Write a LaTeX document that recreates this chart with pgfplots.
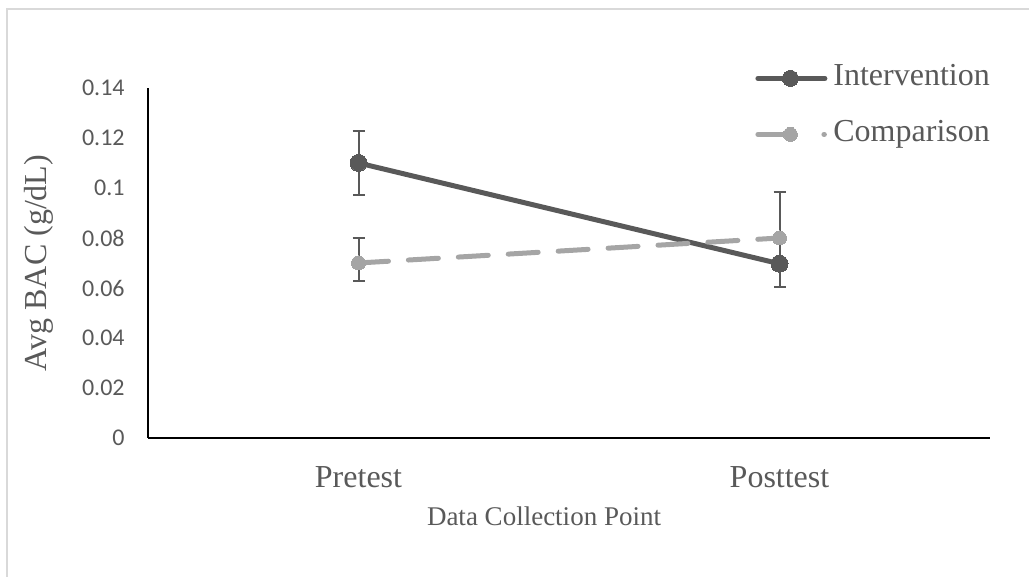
\documentclass[border=0pt]{standalone}
\usepackage{pgfplots}
\pgfplotsset{compat=1.18}
\usepackage{fontspec}
\setmainfont{Liberation Serif}
\newfontfamily\carlito{Carlito}
\definecolor{dgray}{HTML}{595959}
\definecolor{lgray}{HTML}{A5A5A5}
\definecolor{fgray}{HTML}{D9D9D9}
\begin{document}
\begin{tikzpicture}[x=1pt,y=1pt]
\useasboundingbox (0,0) rectangle (514.5,288.5);
\draw[fgray, line width=1pt] (3.5,0) -- (3.5,284) -- (514.5,284);
\begin{axis}[
  at={(74pt,69.5pt)}, anchor=south west,
  scale only axis, width=421pt, height=175pt,
  xmin=-0.5, xmax=1.5, ymin=0, ymax=0.14,
  axis x line*=bottom, axis y line*=left,
  axis line style={black, line width=0.75pt, -},
  xtick={0,1}, xticklabels={Pretest,Posttest},
  ytick={0,0.02,0.04,0.06,0.08,0.1,0.12,0.14},
  yticklabels={0,0.02,0.04,0.06,0.08,0.1,0.12,0.14},
  major tick length=0pt,
  tick label style={text=dgray, inner sep=0pt},
  yticklabel style={font=\carlito\fontsize{12}{14}\selectfont, anchor=east, xshift=-11.5pt},
  xticklabel style={font=\fontsize{16}{19}\selectfont, anchor=base, yshift=-25pt},
  xlabel={Data Collection Point},
  xlabel style={at={(0.4703,-0.2514)}, anchor=base, font=\fontsize{13.5}{16}\selectfont, text=dgray, inner sep=0pt},
  ylabel={Avg BAC (g/dL)},
  ylabel style={at={(-0.1200,0.5)}, anchor=base, font=\fontsize{16}{19}\selectfont, text=dgray, inner sep=0pt},
  legend style={at={(0.7209,1.0714)}, anchor=north west, draw=none, fill=none, inner sep=0pt,
     row sep=13pt, column sep=3pt, font=\fontsize{16}{19}\selectfont, text=dgray,
     nodes={inner sep=0pt, text height=11pt, text depth=4pt}},
  legend cell align=left,
]
\addplot[dgray, line width=2.5pt, line cap=round, mark=*, mark size=4.25pt,
  mark options={solid, fill=dgray, draw=dgray, line width=0pt},
  legend image code/.code={
    \draw[dgray, line width=2.5pt, line cap=round] (1.25pt,0pt) -- (34.75pt,0pt);
    \path[dgray, mark=*, mark size=4pt, mark options={solid, fill=dgray, draw=dgray, line width=0pt}] plot coordinates {(17.5pt,0pt)};
  },
  error bars/.cd, y dir=both, y explicit,
  error bar style={dgray, line width=1pt, solid, line cap=butt},
  error mark options={rotate=90, mark size=3pt, dgray, line width=1pt, solid}]
coordinates {(0,0.11) +- (0,0.0127) (1,0.0697) += (0,0.009) -= (0,0.0094)};
\addlegendentry{Intervention}
\addplot[lgray, line width=2.5pt, line cap=round, dash pattern=on 15pt off 10pt, mark=*, mark size=3.5pt,
  mark options={solid, fill=lgray, draw=lgray, line width=0pt},
  legend image code/.code={
    \draw[lgray, line width=2.5pt, line cap=round, dash pattern=on 12.5pt off 20.5pt] (1.25pt,0pt) -- (34.5pt,0pt);
    \path[lgray, mark=*, mark size=3.5pt, mark options={solid, fill=lgray, draw=lgray, line width=0pt}] plot coordinates {(17.5pt,0pt)};
  },
  error bars/.cd, y dir=both, y explicit,
  error bar style={dgray, line width=1pt, solid, line cap=butt},
  error mark options={rotate=90, mark size=3pt, dgray, line width=1pt, solid}]
coordinates {(0,0.07) += (0,0.01) -= (0,0.0072) (1,0.08) += (0,0.0184) -= (0,0.01)};
\addlegendentry{Comparison}
\end{axis}
\end{tikzpicture}
\end{document}
